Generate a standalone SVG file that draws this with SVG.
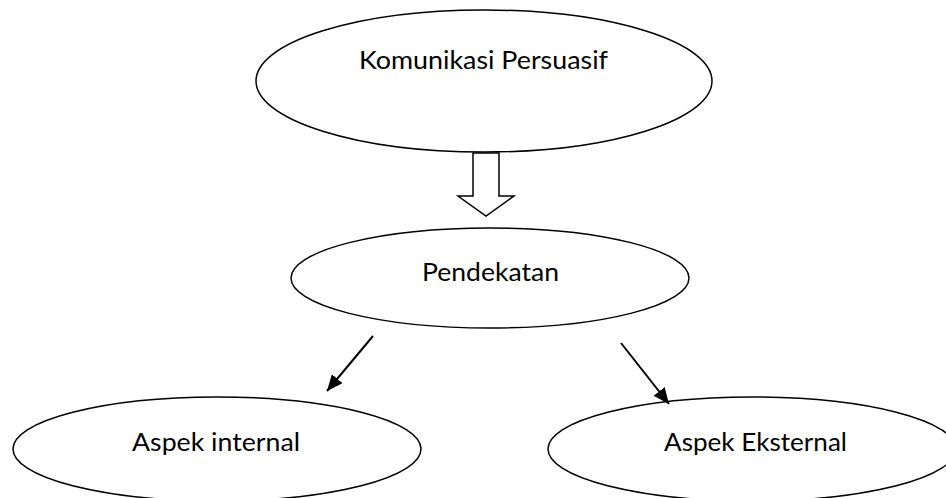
<svg xmlns="http://www.w3.org/2000/svg" width="946" height="498" viewBox="0 0 946 498">
<style>
.node ellipse{fill:#fff;stroke:#000;stroke-width:1.5}
.lbl{font-family:Lato,"Open Sans","Liberation Sans",sans-serif;font-size:25px;fill:#000;text-anchor:middle}
.conn line{stroke:#000;stroke-width:2}
.block{fill:#fff;stroke:#000;stroke-width:1.5;stroke-linejoin:miter}
</style>
<defs>
<marker id="ah" viewBox="0 0 16 14" refX="16" refY="7" markerWidth="16" markerHeight="14" markerUnits="userSpaceOnUse" orient="auto">
<path d="M0,0 L16,7 L0,14 z" fill="#000"/>
</marker>
</defs>
<rect width="946" height="498" fill="#fff"/>
<g id="n-komunikasi" class="node">
<ellipse cx="484" cy="81" rx="228" ry="71"/>
<text class="lbl" x="483.5" y="69" textLength="249" lengthAdjust="spacingAndGlyphs">Komunikasi Persuasif</text>
</g>
<g id="n-pendekatan" class="node">
<ellipse cx="490" cy="278" rx="199" ry="50"/>
<text class="lbl" x="490.5" y="281" textLength="137" lengthAdjust="spacingAndGlyphs">Pendekatan</text>
</g>
<g id="n-internal" class="node">
<ellipse cx="217" cy="449" rx="204" ry="52"/>
<text class="lbl" x="216" y="451" textLength="168" lengthAdjust="spacingAndGlyphs">Aspek internal</text>
</g>
<g id="n-eksternal" class="node">
<ellipse cx="752" cy="449" rx="204" ry="52"/>
<text class="lbl" x="755.5" y="451" textLength="183" lengthAdjust="spacingAndGlyphs">Aspek Eksternal</text>
</g>
<g id="connectors" class="conn">
<path class="block" d="M473,153 L499,153 L499,196 L514,196 L486,216 L458,196 L473,196 Z"/>
<line x1="373" y1="336" x2="327" y2="391" marker-end="url(#ah)"/>
<line x1="621" y1="343" x2="669" y2="404" marker-end="url(#ah)"/>
</g>
</svg>
